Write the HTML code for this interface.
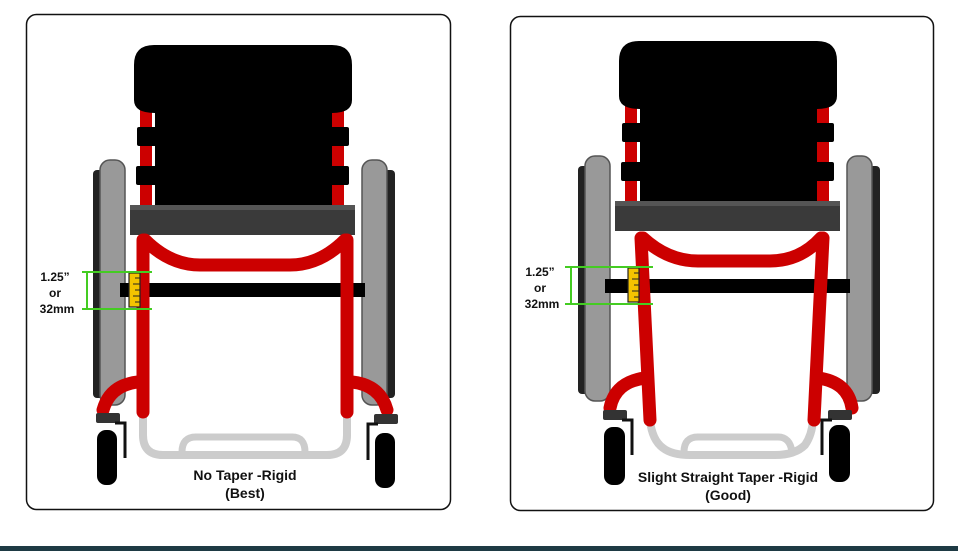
<!DOCTYPE html>
<html><head><style>
html,body{margin:0;padding:0;background:#fff;}
svg{display:block;}
text{font-family:"Liberation Sans",Arial,sans-serif;font-weight:bold;fill:#111;}
</style></head><body>
<svg width="958" height="551" viewBox="0 0 958 551" xmlns="http://www.w3.org/2000/svg">
<rect x="0" y="0" width="958" height="551" fill="#fff"/>
<rect x="0" y="546" width="958" height="5" fill="#1e3a44"/>
<defs>
<g id="chair">
  <!-- wheels -->
  <rect x="93" y="170" width="11" height="228" rx="4" fill="#222"/>
  <rect x="100" y="160" width="25" height="245" rx="10" fill="#999" stroke="#555" stroke-width="1.5"/>
  <rect x="384" y="170" width="11" height="228" rx="4" fill="#222"/>
  <rect x="362" y="160" width="25" height="245" rx="10" fill="#999" stroke="#555" stroke-width="1.5"/>
  <!-- red posts -->
  <rect x="140" y="105" width="12" height="105" fill="#cc0000"/>
  <rect x="332" y="105" width="12" height="105" fill="#cc0000"/>
  <!-- back -->
  <path d="M154,45 H332 Q352,45 352,65 V100 Q352,113 332,113 V205 H155 V113 Q134,113 134,100 V65 Q134,45 154,45 Z" fill="#000"/>
  <rect x="137" y="127" width="212" height="19" rx="2" fill="#000"/>
  <rect x="136" y="166" width="213" height="19" rx="2" fill="#000"/>
  <!-- seat -->
  <rect x="130" y="205" width="225" height="30" fill="#3a3a3a"/>
  <rect x="130" y="205" width="225" height="5" fill="#555"/>
  <!-- axle -->
  <rect x="120" y="283" width="245" height="14" fill="#000"/>
</g>
</defs>

<!-- LEFT PANEL -->
<rect x="26.5" y="14.5" width="424" height="495" rx="10" fill="#fff" stroke="#111" stroke-width="1.5"/>
<use href="#chair"/>
<!-- footrest -->
<path d="M143,415 V435 Q143,455 163,455 H327 Q347,455 347,435 V415" fill="none" stroke="#ccc" stroke-width="8"/>
<path d="M182,452 Q182,437 196,437 H292 Q305,437 305,452" fill="none" stroke="#ccc" stroke-width="7"/>
<!-- frame -->
<g fill="none" stroke="#cc0000" stroke-width="13" stroke-linecap="round">
<path d="M143,240 V412"/><path d="M347,240 V412"/>
<path d="M145,240 Q170,265 200,265 H290 Q320,265 345,240"/>
<path d="M138,382 Q110,385 103,410"/><path d="M352,382 Q380,385 387,410"/>
</g>
<!-- casters -->
<rect x="96" y="413" width="24" height="10" rx="2" fill="#333"/>
<path d="M115,423 H125 V458" stroke="#111" stroke-width="3" fill="none"/>
<rect x="97" y="430" width="20" height="55" rx="9" fill="#000"/>
<rect x="374" y="414" width="24" height="10" rx="2" fill="#333"/>
<path d="M378,424 H368 V460" stroke="#111" stroke-width="3" fill="none"/>
<rect x="375" y="433" width="20" height="55" rx="9" fill="#000"/>
<!-- measurement -->
<rect x="129" y="273" width="11" height="34" fill="#f5c400" stroke="#222" stroke-width="1.2"/>
<g stroke="#222" stroke-width="1"><line x1="135" y1="278" x2="140" y2="278"/><line x1="133" y1="284" x2="140" y2="284"/><line x1="135" y1="290" x2="140" y2="290"/><line x1="133" y1="296" x2="140" y2="296"/><line x1="135" y1="302" x2="140" y2="302"/></g>
<g stroke="#44cc22" stroke-width="2"><line x1="82" y1="272" x2="152" y2="272"/><line x1="82" y1="309" x2="152" y2="309"/><line x1="87" y1="272" x2="87" y2="309"/></g>
<text x="55" y="281" font-size="12" text-anchor="middle">1.25”</text>
<text x="55" y="297" font-size="12" text-anchor="middle">or</text>
<text x="57" y="313" font-size="12" text-anchor="middle">32mm</text>
<text x="245" y="480" font-size="14" text-anchor="middle">No Taper -Rigid</text>
<text x="245" y="498" font-size="14" text-anchor="middle">(Best)</text>

<!-- RIGHT PANEL -->
<rect x="510.5" y="16.5" width="423" height="494" rx="10" fill="#fff" stroke="#111" stroke-width="1.5"/>
<g transform="translate(485,-4)"><use href="#chair"/></g>
<path d="M650,420 Q652,440 663,448 Q672,455 690,455 H775 Q795,455 805,445 Q812,435 813,420" fill="none" stroke="#ccc" stroke-width="8"/>
<path d="M684,452 Q684,437 698,437 H280" fill="none"/>
<path d="M684,452 Q684,437 698,437 H778 Q790,437 792,452" fill="none" stroke="#ccc" stroke-width="7"/>
<g fill="none" stroke="#cc0000" stroke-width="13" stroke-linecap="round">
<path d="M641,238 L650,420"/><path d="M823,238 L814,420"/>
<path d="M643,238 Q668,261 698,261 H770 Q800,261 821,238"/>
<path d="M645,378 Q615,382 610,408"/><path d="M818,378 Q848,382 852,408"/>
</g>
<rect x="603" y="410" width="24" height="10" rx="2" fill="#333"/>
<path d="M622,420 H632 V455" stroke="#111" stroke-width="3" fill="none"/>
<rect x="604" y="427" width="21" height="58" rx="9" fill="#000"/>
<rect x="828" y="410" width="24" height="10" rx="2" fill="#333"/>
<path d="M832,420 H822 V455" stroke="#111" stroke-width="3" fill="none"/>
<rect x="829" y="425" width="21" height="57" rx="9" fill="#000"/>
<rect x="628" y="268" width="11" height="34" fill="#f5c400" stroke="#222" stroke-width="1.2"/>
<g stroke="#222" stroke-width="1"><line x1="634" y1="273" x2="639" y2="273"/><line x1="632" y1="279" x2="639" y2="279"/><line x1="634" y1="285" x2="639" y2="285"/><line x1="632" y1="291" x2="639" y2="291"/><line x1="634" y1="297" x2="639" y2="297"/></g>
<g stroke="#44cc22" stroke-width="2"><line x1="565" y1="267" x2="653" y2="267"/><line x1="565" y1="304" x2="653" y2="304"/><line x1="571" y1="267" x2="571" y2="304"/></g>
<text x="540" y="276" font-size="12" text-anchor="middle">1.25”</text>
<text x="540" y="292" font-size="12" text-anchor="middle">or</text>
<text x="542" y="308" font-size="12" text-anchor="middle">32mm</text>
<text x="728" y="482" font-size="14" text-anchor="middle">Slight Straight Taper -Rigid</text>
<text x="728" y="500" font-size="14" text-anchor="middle">(Good)</text>
</svg>
</body></html>
